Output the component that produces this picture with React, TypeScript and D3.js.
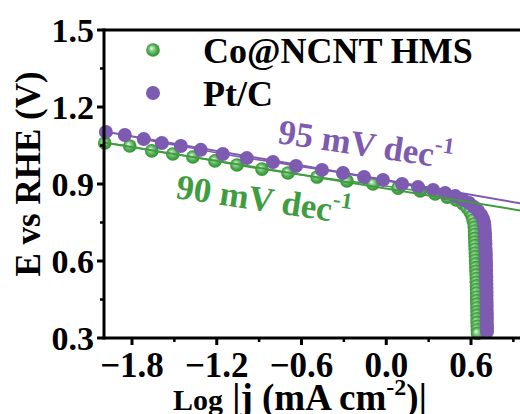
import React from "react";
import * as d3 from "d3";

// ---- data ----
const coLogJ = [
  -1.993, -1.816, -1.66, -1.511, -1.369, -1.213, -1.057, -0.88, -0.696, -0.49, -0.278, -0.094,
  0.084, 0.24, 0.346, 0.431, 0.495, 0.544, 0.573, 0.594, 0.608, 0.615,
  0.622, 0.624, 0.625, 0.626, 0.627, 0.628, 0.629, 0.63, 0.631, 0.632, 0.633, 0.634, 0.635,
  0.636, 0.637, 0.638, 0.638, 0.639, 0.64, 0.64, 0.641, 0.641, 0.642, 0.642, 0.643, 0.643,
  0.644, 0.644, 0.645, 0.645, 0.646,
];
const coE = [
  1.06, 1.048, 1.029, 1.017, 1.005, 0.99, 0.974, 0.958, 0.943, 0.927, 0.912, 0.9,
  0.884, 0.873, 0.861, 0.849, 0.838, 0.822, 0.807, 0.791, 0.775, 0.76,
  0.745, 0.731, 0.717, 0.703, 0.688, 0.674, 0.66, 0.646, 0.631, 0.617, 0.603, 0.589, 0.574,
  0.56, 0.546, 0.532, 0.517, 0.503, 0.489, 0.475, 0.46, 0.446, 0.432, 0.418, 0.403, 0.389,
  0.375, 0.361, 0.346, 0.332, 0.318,
];
const ptLogJ = [
  -1.985, -1.851, -1.717, -1.589, -1.454, -1.313, -1.157, -0.987, -0.802, -0.639, -0.455, -0.306,
  -0.157, -0.023, 0.112, 0.225, 0.332, 0.417, 0.488, 0.544, 0.587, 0.622, 0.651, 0.672, 0.686,
  0.692, 0.695, 0.697, 0.699, 0.7, 0.701, 0.702, 0.703, 0.704, 0.705, 0.705, 0.706, 0.706,
  0.707, 0.707, 0.708, 0.708, 0.709, 0.709, 0.71, 0.71, 0.71, 0.711, 0.711, 0.711, 0.712,
  0.712, 0.712, 0.713, 0.713, 0.713,
];
const ptE = [
  1.103, 1.091, 1.075, 1.06, 1.048, 1.033, 1.017, 1.001, 0.986, 0.97, 0.955, 0.943,
  0.927, 0.916, 0.9, 0.888, 0.877, 0.865, 0.853, 0.838, 0.826, 0.81, 0.795, 0.779, 0.764,
  0.75, 0.736, 0.722, 0.707, 0.693, 0.679, 0.665, 0.651, 0.636, 0.622, 0.608, 0.594,
  0.58, 0.565, 0.551, 0.537, 0.523, 0.509, 0.494, 0.48, 0.466, 0.452, 0.438, 0.423, 0.409,
  0.395, 0.381, 0.367, 0.352, 0.338, 0.324, 0.31,
];
// Tafel fits: [E at logj = -2, slope in V/dec]
const coFit = [1.062, -0.09];
const ptFit = [1.105, -0.095];
const fitRange = [-2.0, 1.0];

const xTicks = [-1.8, -1.2, -0.6, 0.0, 0.6];
const xMinor = [-1.5, -0.9, -0.3, 0.3, 0.9];
const yTicks = [0.3, 0.6, 0.9, 1.2, 1.5];
const yMinor = [0.45, 0.75, 1.05, 1.35];
const seriesNames = ["Co@NCNT HMS", "Pt/C"];

const GREEN = "#3f9c3f";
const PURPLE = "#7d5bb0";
const FONT = "'Liberation Serif', 'Times New Roman', serif";

export default function App() {
  const W = 520, H = 414;
  const L = 104, T = 30, B = 338;
  const x = d3.scaleLinear().domain([-2.0, 1.0]).range([103.75, 527.5]);
  const y = d3.scaleLinear().domain([0.3, 1.5]).range([B, T]);

  const line = d3
    .line<[number, number]>()
    .x((d) => x(d[0]))
    .y((d) => y(d[1]));

  const co = coLogJ.map((v, i) => [v, coE[i]] as [number, number]);
  const pt = ptLogJ.map((v, i) => [v, ptE[i]] as [number, number]);
  const fitPts = (f: number[]) =>
    fitRange.map((v) => [v, f[0] + f[1] * (v + 2)] as [number, number]);

  return (
    <svg
      width={W}
      height={H}
      style={{ position: "absolute", left: 0, top: 0, background: "#fff" }}
      fontFamily={FONT}
      fontWeight="bold"
    >
      <defs>
        <radialGradient id="gsph" cx="50%" cy="50%" r="55%" fx="38%" fy="35%">
          <stop offset="0%" stopColor="#f2fbf2" />
          <stop offset="30%" stopColor="#8fd08f" />
          <stop offset="65%" stopColor="#48a848" />
          <stop offset="100%" stopColor="#2e8a2e" />
        </radialGradient>
      </defs>
      <rect x={0} y={0} width={W} height={H} fill="#fff" />

      {/* data: Co@NCNT HMS */}
      <path d={line(co) || ""} fill="none" stroke={GREEN} strokeWidth={1.5} />
      {co.map((d, i) => (
        <circle key={"c" + i} cx={x(d[0])} cy={y(d[1])} r={6.8} fill="url(#gsph)" />
      ))}
      {/* data: Pt/C */}
      <path d={line(pt) || ""} fill="none" stroke={PURPLE} strokeWidth={1.5} />
      {pt.map((d, i) => (
        <circle key={"p" + i} cx={x(d[0])} cy={y(d[1])} r={7} fill={PURPLE} />
      ))}

      {/* fits */}
      <path d={line(fitPts(ptFit)) || ""} stroke={PURPLE} strokeWidth={2} fill="none" />
      <path d={line(fitPts(coFit)) || ""} stroke={GREEN} strokeWidth={2} fill="none" />

      {/* axes */}
      <line x1={L} x2={W} y1={T} y2={T} stroke="#000" strokeWidth={3} />
      <line x1={L} x2={W} y1={B} y2={B} stroke="#000" strokeWidth={3} />
      <line x1={L} x2={L} y1={T - 1.5} y2={B + 1.5} stroke="#000" strokeWidth={3} />
      {xTicks.map((t) => (
        <g key={"xt" + t}>
          <line x1={x(t)} x2={x(t)} y1={B} y2={B + 7} stroke="#000" strokeWidth={3} />
          <text x={x(t)} y={377} textAnchor="middle" fontSize={35}>
            {t === 0 ? "0.0" : d3.format(".1f")(t)}
          </text>
        </g>
      ))}
      {xMinor.map((t) => (
        <line key={"xm" + t} x1={x(t)} x2={x(t)} y1={B} y2={B + 4} stroke="#000" strokeWidth={2.5} />
      ))}
      {yTicks.map((t) => (
        <g key={"yt" + t}>
          <line x1={L - 7} x2={L} y1={y(t)} y2={y(t)} stroke="#000" strokeWidth={3} />
          <text x={94} y={y(t) + 11.5} textAnchor="end" fontSize={34}>
            {d3.format(".1f")(t)}
          </text>
        </g>
      ))}
      {yMinor.map((t) => (
        <line key={"ym" + t} x1={L - 4} x2={L} y1={y(t)} y2={y(t)} stroke="#000" strokeWidth={2.5} />
      ))}

      {/* axis titles */}
      <text transform="translate(40,174) rotate(-90)" textAnchor="middle" fontSize={35}>
        E vs RHE (V)
      </text>
      <text x={173} y={410} fontSize={37}>
        <tspan fontSize={30}>Log</tspan>
        <tspan> |j (mA cm</tspan>
        <tspan fontSize={24} dy={-15}>-2</tspan>
        <tspan dy={15}>)|</tspan>
      </text>

      {/* legend */}
      <circle cx={153} cy={50} r={6.8} fill="url(#gsph)" />
      <text x={203} y={63} fontSize={36}>{seriesNames[0]}</text>
      <circle cx={153} cy={93} r={7} fill={PURPLE} />
      <text x={203} y={106} fontSize={36}>{seriesNames[1]}</text>

      {/* annotations */}
      <text transform="translate(277,143) rotate(8.5)" fontSize={35} fill={PURPLE}>
        95 mV dec<tspan fontSize={23} dy={-15}>-1</tspan>
      </text>
      <text transform="translate(175,198) rotate(8.5)" fontSize={35} fill={GREEN}>
        90 mV dec<tspan fontSize={23} dy={-15}>-1</tspan>
      </text>
    </svg>
  );
}
